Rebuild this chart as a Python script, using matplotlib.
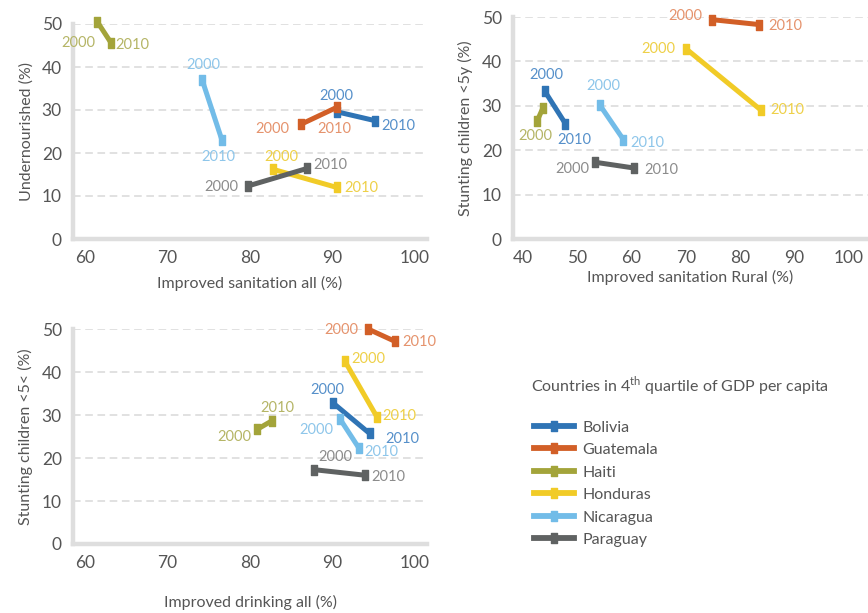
import matplotlib
matplotlib.use('Agg')
import matplotlib.pyplot as plt
from matplotlib.path import Path
from matplotlib.lines import Line2D

plt.rcParams['font.family'] = ['Lato', 'DejaVu Sans']

# data
countries = ['Bolivia', 'Guatemala', 'Haiti', 'Honduras', 'Nicaragua', 'Paraguay']

# panel 1: improved sanitation all vs undernourished
san_all_2000 = [90.5, 86.2, 61.5, 82.8, 74.2, 79.7]
san_all_2010 = [95.2, 90.5, 63.2, 90.5, 76.6, 86.9]
under_2000 = [29.6, 26.7, 50.5, 16.2, 37.0, 12.3]
under_2010 = [27.5, 30.6, 45.5, 12.0, 23.0, 16.4]

# panel 2: improved sanitation rural vs stunting
san_rural_2000 = [44.0, 74.9, 42.6, 70.1, 54.2, 53.2]
san_rural_2010 = [47.8, 83.5, 43.7, 83.9, 58.5, 60.4]
stunt_r_2000 = [33.3, 49.4, 26.6, 42.8, 30.1, 17.3]
stunt_r_2010 = [26.0, 48.3, 29.6, 29.0, 22.4, 16.0]

# panel 3: improved drinking all vs stunting
drink_2000 = [90.0, 94.3, 80.9, 91.5, 90.9, 87.7]
drink_2010 = [94.5, 97.6, 82.7, 95.4, 93.2, 93.9]
stunt_d_2000 = [32.9, 50.0, 26.7, 42.5, 29.1, 17.3]
stunt_d_2010 = [25.7, 47.1, 28.7, 29.5, 22.3, 16.0]

years = ['2000', '2010']

# colours (line, label text)
line_colors = ['#2f74b5', '#d25f27', '#a3a43a', '#f1cb27', '#72bce8', '#5f6262']
text_colors = ['#5690ca', '#e5936d', '#b5b566', '#eed048', '#8ec6ea', '#8c8c8c']

# label offsets in pixels (dx, dy down, ha) for 2000 and 2010 points; None = no label
lab1 = [((0, -16), 'center', (6, 5), 'left'),
        ((-12, 5), 'right', (-2, 22), 'center'),
        ((-2, 21), 'right', (4, 2), 'left'),
        ((8, -12), 'center', (8, 1), 'left'),
        ((1, -15), 'center', (-4, 17), 'center'),
        ((-9, 1), 'right', (6, -3), 'left')]
lab2 = [((2, -16), 'center', (9, 16), 'center'),
        ((-10, -4), 'right', (9, 1), 'left'),
        ((-2, 15), 'center', None, None),
        ((-11, 0), 'right', (9, 0), 'left'),
        ((3, -19), 'center', (7, 3), 'left'),
        ((-5, 7), 'right', (11, 2), 'left')]
lab3 = [((-5, -13), 'center', (16, 6), 'left'),
        ((-10, 1), 'right', (7, 1), 'left'),
        ((-6, 8), 'right', (5, -13), 'center'),
        ((6, -2), 'left', (5, -1), 'left'),
        ((-7, 11), 'right', (5, 4), 'left'),
        ((22, -13), 'center', (7, 2), 'left')]

# tall rectangle marker
rect = Path([(-0.5, -1), (0.5, -1), (0.5, 1), (-0.5, 1), (-0.5, -1)],
            [Path.MOVETO, Path.LINETO, Path.LINETO, Path.LINETO, Path.CLOSEPOLY])

fig = plt.figure(figsize=(8.68, 6.13), dpi=100)
W, H = 868, 613


def px_axes(l, r, b, t):
    return fig.add_axes([l / W, 1 - b / H, (r - l) / W, (b - t) / H])


def style_axes(ax, xlim, xticks, xlabel, ylabel, xlabelpad, ylabelpad):
    ax.set_xlim(*xlim)
    ax.set_ylim(0, 50)
    ax.set_xticks(xticks)
    ax.set_yticks(range(0, 51, 10))
    for s in ['top', 'right']:
        ax.spines[s].set_visible(False)
    for s in ['left', 'bottom']:
        ax.spines[s].set_color('#dedede')
        ax.spines[s].set_linewidth(3.2)
    ax.tick_params(length=0, labelsize=12.5, labelcolor='#555555', pad=8)
    ax.yaxis.grid(True, color='#d9d9d9', linestyle=(0, (5, 3)), linewidth=1.1)
    ax.set_axisbelow(True)
    ax.set_xlabel(xlabel, fontsize=11.5, color='#555555', labelpad=xlabelpad)
    ax.set_ylabel(ylabel, fontsize=11.5, color='#555555', labelpad=ylabelpad)


def draw(ax, x0, x1, y0, y1, labs):
    for i in range(len(countries)):
        ax.plot([x0[i], x1[i]], [y0[i], y1[i]], color=line_colors[i], lw=3.6,
                marker=rect, markersize=7.5, solid_capstyle='butt', clip_on=False, zorder=3)
        pts = [(x0[i], y0[i]), (x1[i], y1[i])]
        for k in range(2):
            off, ha = labs[i][2 * k], labs[i][2 * k + 1]
            if off is None:
                continue
            ax.annotate(years[k], pts[k], xytext=(off[0] * 0.72, -off[1] * 0.72),
                        textcoords='offset points', ha=ha, va='center',
                        fontsize=10.5, color=text_colors[i], zorder=4,
                        annotation_clip=False)


ax1 = px_axes(73, 427, 239, 24)
style_axes(ax1, (58.55, 101.45), range(60, 101, 10), 'Improved sanitation all (%)',
           'Undernourished (%)', 7, 6)
draw(ax1, san_all_2000, san_all_2010, under_2000, under_2010, lab1)

ax2 = px_axes(513, 868, 239, 17)
style_axes(ax2, (38.15, 103.6), range(40, 101, 10), 'Improved sanitation Rural (%)',
           'Stunting children <5y (%)', 3, 6)
draw(ax2, san_rural_2000, san_rural_2010, stunt_r_2000, stunt_r_2010, lab2)

ax3 = px_axes(73, 427, 544, 329)
style_axes(ax3, (58.55, 101.45), range(60, 101, 10), 'Improved drinking all (%)',
           'Stunting children <5< (%)', 17, 6)
draw(ax3, drink_2000, drink_2010, stunt_d_2000, stunt_d_2010, lab3)

# legend
handles = [Line2D([], [], color=c, lw=4.2, marker=rect, markersize=7.5) for c in line_colors]
fig.text(531 / W, 1 - 386 / H, 'Countries in 4$^{\\mathregular{th}}$ quartile of GDP per capita',
         fontsize=11.5, color='#555555', va='center', ha='left')
leg = fig.legend(handles, countries, loc='upper left', bbox_to_anchor=(528 / W, 1 - 414 / H),
                 frameon=False, fontsize=11.5, handlelength=2.5, handletextpad=0.5,
                 labelspacing=0.52, borderaxespad=0)
for t in leg.get_texts():
    t.set_color('#555555')

plt.savefig('out.png', dpi=100)
